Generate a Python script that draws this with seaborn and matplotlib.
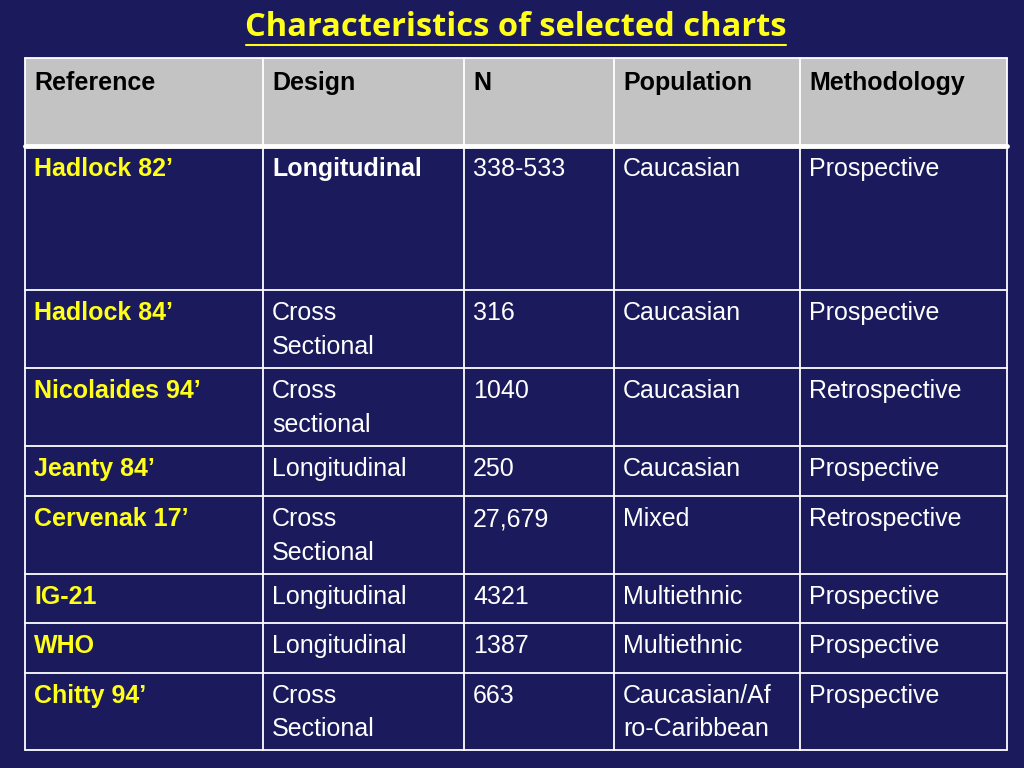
import matplotlib
matplotlib.use('Agg')
import matplotlib.pyplot as plt
import seaborn as sns

sns.set_theme(style='white')

BG = '#1a1a5c'
HEAD_BG = '#c3c3c3'
YELLOW = '#ffff1a'

# 表格数据
headers = ['Reference', 'Design', 'N', 'Population', 'Methodology']
references = ['Hadlock 82’', 'Hadlock 84’', 'Nicolaides 94’', 'Jeanty 84’',
              'Cervenak 17’', 'IG-21', 'WHO', 'Chitty 94’']
designs = ['Longitudinal', 'Cross\nSectional', 'Cross\nsectional', 'Longitudinal',
           'Cross\nSectional', 'Longitudinal', 'Longitudinal', 'Cross\nSectional']
sizes = ['338-533', '316', '1040', '250', '27,679', '4321', '1387', '663']
populations = ['Caucasian', 'Caucasian', 'Caucasian', 'Caucasian', 'Mixed',
               'Multiethnic', 'Multiethnic', 'Caucasian/Af\nro-Caribbean']
methods = ['Prospective', 'Prospective', 'Retrospective', 'Prospective',
           'Retrospective', 'Prospective', 'Prospective', 'Prospective']

# 版面 (像素)
col_x = [25, 263, 464, 614, 800, 1007]
row_y = [58, 146, 290, 368, 446, 496, 574, 623, 673, 750]

fig = plt.figure(figsize=(10.24, 7.68), dpi=100, facecolor=BG)
ax = fig.add_axes([0, 0, 1, 1])
ax.set_xlim(0, 1024)
ax.set_ylim(768, 0)
ax.axis('off')
ax.set_facecolor(BG)

ax.text(516, 27, 'Characteristics of selected charts', color=YELLOW,
        fontfamily='Open Sans', fontweight='bold', fontsize=23.5,
        ha='center', va='center')
ax.plot([246, 786], [45, 45], color=YELLOW, lw=1.5)

# 表头背景
ax.add_patch(plt.Rectangle((col_x[0], row_y[0]), col_x[-1] - col_x[0],
                           row_y[1] - row_y[0], facecolor=HEAD_BG, edgecolor='none'))

# 网格线
for x in col_x:
    ax.plot([x, x], [row_y[0], row_y[-1]], color='white', lw=1.3)
for i, y in enumerate(row_y):
    ax.plot([col_x[0], col_x[-1]], [y, y], color='white', lw=3.5 if i == 1 else 1.3)

font = dict(fontfamily='Liberation Sans', fontsize=18, va='top', ha='left',
            linespacing=1.5)
for j, h in enumerate(headers):
    ax.text(col_x[j] + 9, row_y[0] + 13, h, color='black', fontweight='bold', **font)

columns = [references, designs, sizes, populations, methods]
for i in range(len(references)):
    for j, col in enumerate(columns):
        color = YELLOW if j == 0 else 'white'
        weight = 'bold' if j == 0 or (j == 1 and i == 0) else 'normal'
        ax.text(col_x[j] + 9, row_y[i + 1] + 11, col[i], color=color,
                fontweight=weight, **font)

fig.savefig('out.png', dpi=100, facecolor=BG)
